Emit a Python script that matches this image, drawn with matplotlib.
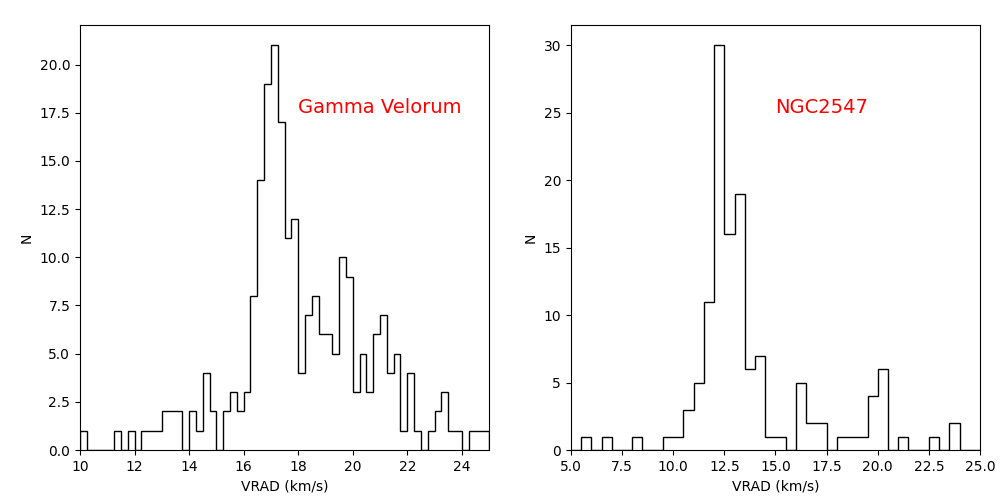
import numpy as np
import matplotlib
matplotlib.use('Agg')
import matplotlib.pyplot as plt

# Gamma Velorum: bins 0.25 km/s from 10 to 25
gv_edges = np.arange(10, 25.001, 0.25)
gv_counts = [1, 0, 0, 0, 0, 1, 0, 1, 0, 1,
             1, 1, 2, 2, 2, 0, 2, 1, 4, 2,
             0, 2, 3, 2, 3, 8, 14, 19, 21, 17,
             11, 12, 4, 7, 8, 6, 6, 5, 10, 9,
             3, 5, 3, 6, 7, 4, 5, 1, 4, 1,
             0, 1, 2, 3, 1, 1, 0, 1, 1, 1]

# NGC2547: bins 0.5 km/s from 5 to 25
ngc_edges = np.arange(5, 25.001, 0.5)
ngc_counts = [0, 1, 0, 1, 0, 0, 1, 0, 0, 1,
              1, 3, 5, 11, 30, 16, 19, 6, 7, 1,
              1, 0, 5, 2, 2, 0, 1, 1, 1, 4,
              6, 0, 1, 0, 0, 1, 0, 2, 0, 0]

fig, (ax1, ax2) = plt.subplots(1, 2, figsize=(10, 5), dpi=100)
fig.subplots_adjust(left=0.08, right=0.98, top=0.95, bottom=0.1, wspace=0.2)

ax1.hist(gv_edges[:-1], bins=gv_edges, weights=gv_counts, histtype='step', color='black')
ax1.set_xlim(10, 25)
ax1.set_xlabel('VRAD (km/s)')
ax1.set_ylabel('N')
ax1.text(18, 17.5, 'Gamma Velorum', color='red', fontsize=14)

ax2.hist(ngc_edges[:-1], bins=ngc_edges, weights=ngc_counts, histtype='step', color='black')
ax2.set_xlim(5, 25)
ax2.set_xlabel('VRAD (km/s)')
ax2.set_ylabel('N')
ax2.text(15, 25, 'NGC2547', color='red', fontsize=14)

plt.savefig('out.png')
